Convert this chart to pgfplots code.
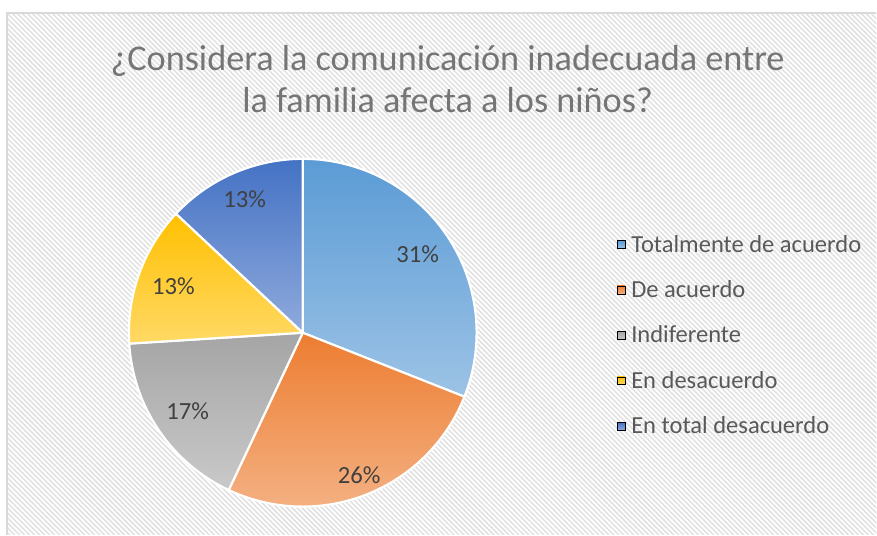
\documentclass[border=0pt]{standalone}
\usepackage{fontspec}
\setmainfont{Carlito}
\usepackage{pgfplots}
\pgfplotsset{compat=1.18}
\usepackage{pgfplotstable}
\usetikzlibrary{patterns.meta}

% slice colours: top / bottom of the gradient
\definecolor{c0t}{HTML}{5B9BD5}\definecolor{c0b}{HTML}{9DC3E6}
\definecolor{c1t}{HTML}{ED7D31}\definecolor{c1b}{HTML}{F4B183}
\definecolor{c2t}{HTML}{A5A5A5}\definecolor{c2b}{HTML}{C9C9C9}
\definecolor{c3t}{HTML}{FFC000}\definecolor{c3b}{HTML}{FFD966}
\definecolor{c4t}{HTML}{4472C4}\definecolor{c4b}{HTML}{8FAADC}
\definecolor{titlegray}{HTML}{757575}
\definecolor{legendgray}{HTML}{595959}
\definecolor{labelgray}{HTML}{404040}
\definecolor{framegray}{HTML}{D9D9D9}

% value in percent, radius factor of the data label
\pgfplotstableread{
key value lr
0   31    0.80
1   26    0.88
2   17    0.80
3   13    0.79
4   13    0.84
}\piedata

\def\cx{303}\def\cy{202}\def\rr{174}
\def\pierad{130.5pt}

\begin{document}
\begin{tikzpicture}
% start and end angles of the slices, label positions
\gdef\cumangle{90}
\foreach \i in {0,...,4} {
  \pgfplotstablegetelem{\i}{value}\of\piedata
  \expandafter\xdef\csname pv\i\endcsname{\pgfplotsretval}
  \pgfmathsetmacro\b{\cumangle-3.6*\pgfplotsretval}
  \expandafter\xdef\csname sa\i\endcsname{\cumangle}
  \expandafter\xdef\csname sb\i\endcsname{\b}
  \pgfplotstablegetelem{\i}{lr}\of\piedata
  \pgfmathsetmacro\m{(\cumangle+\b)/2}
  \pgfmathsetmacro\lx{\cx+\pgfplotsretval*\rr*cos(\m)}
  \pgfmathsetmacro\ly{\cy+\pgfplotsretval*\rr*sin(\m)}
  \expandafter\xdef\csname lx\i\endcsname{\lx}
  \expandafter\xdef\csname ly\i\endcsname{\ly}
  \xdef\cumangle{\b}
}
\begin{axis}[
  x=0.75pt, y=0.75pt,
  xmin=0, xmax=877, ymin=0, ymax=535,
  hide axis, clip=false,
  legend style={
    at={(axis cs:617,300)}, anchor=north west,
    draw=none, fill=none, inner sep=0pt,
    font=\fontsize{18.4}{22}\selectfont, text=legendgray,
    row sep=19.8pt,
    nodes={inner xsep=4.5pt, inner ysep=0pt},
  },
  legend cell align=left,
]
% background
\fill[white] (axis cs:0,0) rectangle (axis cs:877,535);
\fill[pattern={Lines[angle=-45,distance=2.65pt,line width=1.1pt]}, pattern color=gray!24]
  (axis cs:7,0) rectangle (axis cs:877,522);
\draw[framegray, line width=1.1pt] (axis cs:7,0) -- (axis cs:7,522) -- (axis cs:877,522);

% slices
\pgfplotsinvokeforeach{0,...,4}{
  \edef\temp{\noexpand\path[draw=white, line width=1.6pt, line join=round,
      top color=c#1t, bottom color=c#1b]
    (axis cs:\cx,\cy) -- ++(\csname sa#1\endcsname:\pierad)
    arc[start angle=\csname sa#1\endcsname, end angle=\csname sb#1\endcsname, radius=\pierad]
    -- cycle;}
  \temp
  \edef\temp{\noexpand\node[font=\noexpand\fontsize{18.5}{22}\noexpand\selectfont, text=labelgray]
    at (axis cs:\csname lx#1\endcsname,\csname ly#1\endcsname) {\csname pv#1\endcsname\noexpand\%};}
  \temp
}

% title
\node[anchor=base, font=\fontsize{27.2}{33}\selectfont, text=titlegray]
  at (axis cs:448,464) {¿Considera la comunicación inadecuada entre};
\node[anchor=base, font=\fontsize{27.2}{33}\selectfont, text=titlegray]
  at (axis cs:448,422) {la familia afecta a los niños?};

% legend
\addlegendimage{legend image code/.code={\path[top color=c0t,bottom color=c0b] (0pt,-3pt) rectangle (6pt,3pt);}}
\addlegendentry{Totalmente de acuerdo}
\addlegendimage{legend image code/.code={\path[top color=c1t,bottom color=c1b] (0pt,-3pt) rectangle (6pt,3pt);}}
\addlegendentry{De acuerdo}
\addlegendimage{legend image code/.code={\path[top color=c2t,bottom color=c2b] (0pt,-3pt) rectangle (6pt,3pt);}}
\addlegendentry{Indiferente}
\addlegendimage{legend image code/.code={\path[top color=c3t,bottom color=c3b] (0pt,-3pt) rectangle (6pt,3pt);}}
\addlegendentry{En desacuerdo}
\addlegendimage{legend image code/.code={\path[top color=c4t,bottom color=c4b] (0pt,-3pt) rectangle (6pt,3pt);}}
\addlegendentry{En total desacuerdo}
\end{axis}
\end{tikzpicture}
\end{document}
